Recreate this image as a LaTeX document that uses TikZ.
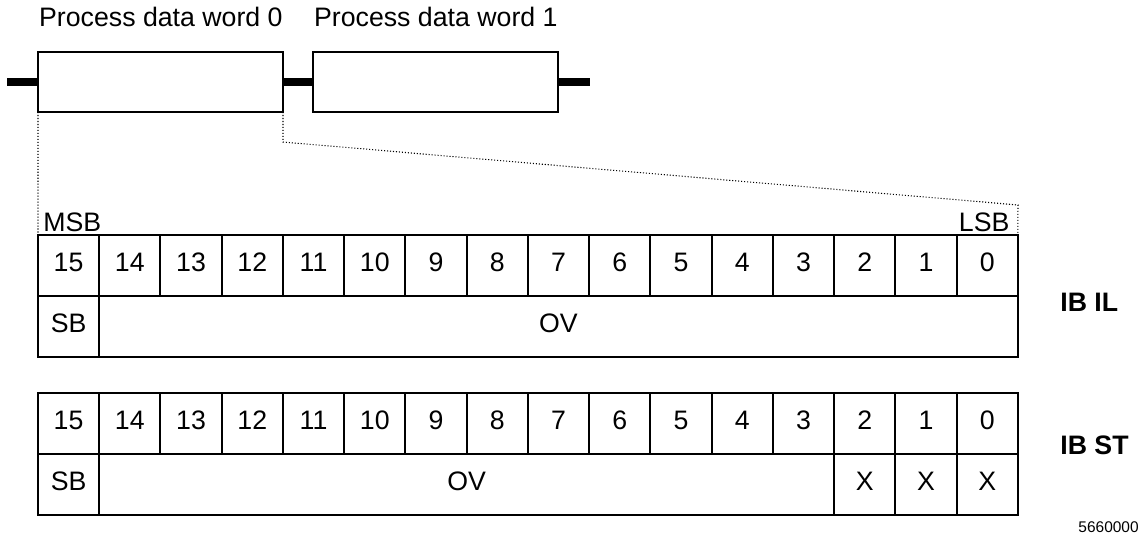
\documentclass[tikz,border=0pt]{standalone}
\usepackage{fontspec}
\setmainfont{Liberation Sans}
\usetikzlibrary{positioning}
\tikzset{
    cell/.style={rectangle,draw=black,line width=1.1pt,minimum width=1.225cm,minimum height=1.22cm,inner sep=0,outer sep=0,text height=0.72em,text depth=0pt,font=\fontsize{15.2}{18}\selectfont},
    word/.style={rectangle,draw=black,line width=1.1pt,minimum width=4.9cm,minimum height=1.2cm,inner sep=0,outer sep=0},
    label/.style={inner sep=0,font=\fontsize{15.2}{18}\selectfont},
    tag/.style={inner sep=0,font=\fontsize{15.2}{18}\selectfont\bfseries},
    bus/.style={line width=4.5pt},
    guide/.style={line width=0.6pt,dash pattern=on 0.6pt off 1.1pt}
}

\begin{document}
\begin{tikzpicture}[x=0.02cm,y=-0.02cm]
    \useasboundingbox (0,0) rectangle (1139,535);
    % process data words
    \node[word] (w0) at (160.5,82) {};
    \node[word,right=0.6cm of w0] (w1) {};
    \node[label,anchor=base east] (l0) at ([yshift=0.52cm]w0.north east) {Process data word 0};
    \node[label,anchor=base east] (l1) at ([yshift=0.52cm]w1.north east) {Process data word 1};
    \coordinate (in) at (7,82);
    \coordinate (out) at (590,82);
    \draw[bus] (in) -- (w0.west);
    \draw[bus] (w0.east) -- (w1.west);
    \draw[bus] (w1.east) -- (out);

    % IB IL
    \node[cell] (a15) at (68.6,265.5) {15};
    \foreach \b in {14,...,0}{
        \pgfmathtruncatemacro\prev{\b+1}
        \node[cell,right=0pt of a\prev] (a\b) {\b};
    }
    \node[cell,below=0pt of a15] (asb) {SB};
    \node[cell,minimum width=18.375cm,anchor=north west] (aov) at (asb.north east) {OV};
    \node[label,anchor=base west] (msb) at ([xshift=0.1cm,yshift=0.08cm]a15.north west) {MSB};
    \node[label,anchor=base east] (lsb) at ([xshift=-0.16cm,yshift=0.08cm]a0.north east) {LSB};
    \node[tag,anchor=west] (il) at (1060,302) {IB IL};

    % IB ST
    \node[cell] (b15) at (68.6,423.5) {15};
    \foreach \b in {14,...,0}{
        \pgfmathtruncatemacro\prev{\b+1}
        \node[cell,right=0pt of b\prev] (b\b) {\b};
    }
    \node[cell,below=0pt of b15] (bsb) {SB};
    \node[cell,minimum width=14.7cm,anchor=north west] (bov) at (bsb.north east) {OV};
    \foreach \b in {2,1,0}
        \node[cell,below=0pt of b\b] (bx\b) {X};
    \node[tag,anchor=west] (st) at (1060,445) {IB ST};

    % guides from word 0 to the bits
    \coordinate (bend) at (1018,205);
    \draw[guide] (w0.south west) -- (a15.north west);
    \draw[guide] (w0.south east) -- ++(0,30) -- (bend) -- (a0.north east);

    \node[anchor=base east,inner sep=0,font=\fontsize{8.8}{10}\selectfont] (fig) at (1139,532) {5660000};
\end{tikzpicture}
\end{document}
